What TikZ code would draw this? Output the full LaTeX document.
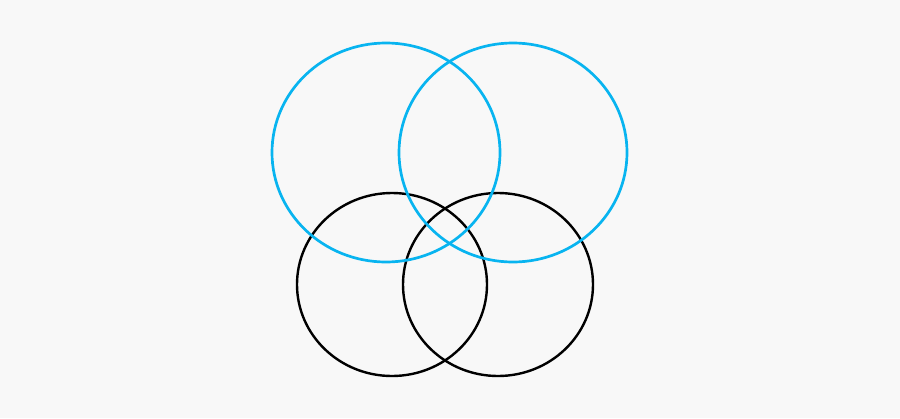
\documentclass[tikz,border=0pt]{standalone}
\usepackage{tikz}

\definecolor{bgcol}{HTML}{F8F8F8}
\definecolor{skyblue}{HTML}{08B4F0}

\begin{document}
\begin{tikzpicture}[x=1pt, y=-1pt]
		\fill[bgcol] (0, 0) rectangle (900, 418);
		\useasboundingbox (0, 0) rectangle (900, 418);
		\foreach \x in {392, 498}
			\draw[black, line width=2.4pt] (\x, 284.5) ellipse (95 and 91.5);
		\foreach \x in {386, 513}
			\draw[skyblue, line width=2.7pt] (\x, 152.5) ellipse (114 and 109.5);
	\end{tikzpicture}
\end{document}
